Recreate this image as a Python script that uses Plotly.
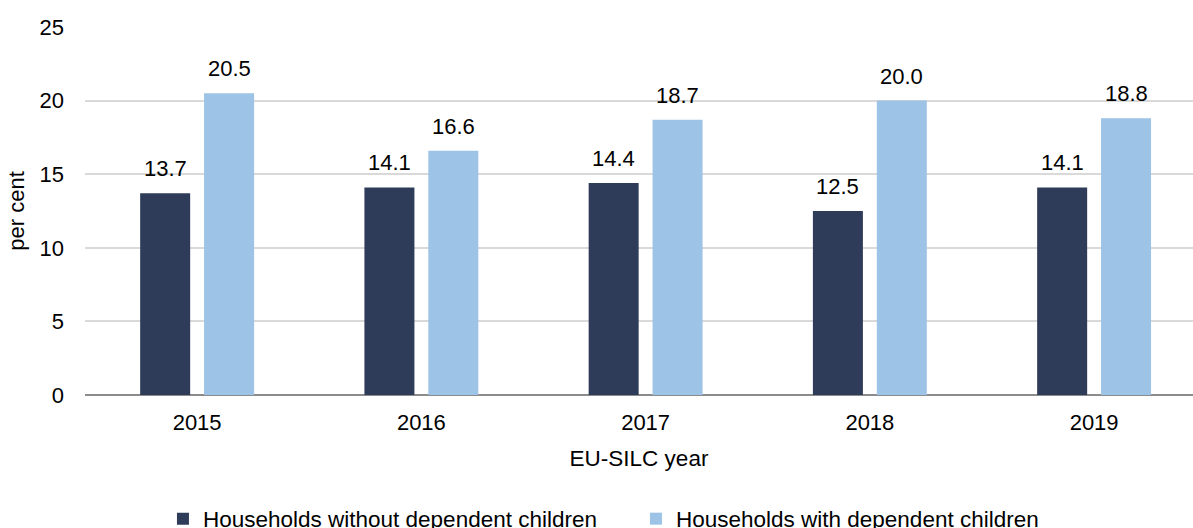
import plotly.graph_objects as go

years = ["2015", "2016", "2017", "2018", "2019"]
without_children = [13.7, 14.1, 14.4, 12.5, 14.1]
with_children = [20.5, 16.6, 18.7, 20.0, 18.8]
series_names = ["Households without dependent children", "Households with dependent children"]
y_ticks = [0, 5, 10, 15, 20, 25]

DARK = "#2F3C59"
LIGHT = "#9DC3E6"
FONT = "Liberation Sans, Arial, sans-serif"
FS = 22
FS2 = 22.5

BW = 0.223
fig = go.Figure()
fig.add_trace(go.Bar(x=years, y=without_children, name=series_names[0],
                     marker=dict(color=DARK, line=dict(width=0)),
                     width=BW, offset=-0.254))
fig.add_trace(go.Bar(x=years, y=with_children, name=series_names[1],
                     marker=dict(color=LIGHT, line=dict(width=0)),
                     width=BW, offset=0.031))

annotations = []
for i, yr in enumerate(years):
    for vals, dx in ((without_children, -0.1425), (with_children, 0.1425)):
        annotations.append(dict(x=i + dx, y=vals[i], xref="x", yref="y",
                                text=f"{vals[i]:.1f}", showarrow=False,
                                yanchor="bottom", yshift=10,
                                font=dict(family=FONT, size=FS, color="#000000")))

fig.update_layout(
    width=1193, height=528,
    margin=dict(l=85, r=0, t=27, b=133),
    paper_bgcolor="white", plot_bgcolor="white",
    font=dict(family=FONT, size=FS, color="#000000"),
    barmode="group",
    xaxis=dict(type="category", range=[-0.5, 4.441], showgrid=False,
               ticks="", showline=False, zeroline=False,
               tickfont=dict(size=FS), ticklabelstandoff=12,
               title=dict(text="EU-SILC year", font=dict(size=FS2), standoff=16)),
    yaxis=dict(range=[0, 25], tickvals=y_ticks, showgrid=True,
               gridcolor="#D9D9D9", gridwidth=1.5, zeroline=True,
               zerolinecolor="#8C8C8C", zerolinewidth=1.5, ticks="",
               showline=False, tickfont=dict(size=FS), ticklabelstandoff=20,
               title=dict(text="per cent", font=dict(size=FS), standoff=8)),
    legend=dict(orientation="h", xref="container", yref="container",
                x=0.1366, xanchor="left", y=0.017, yanchor="middle",
                font=dict(size=FS2), entrywidth=428, entrywidthmode="pixels",
                traceorder="normal"),
    annotations=annotations,
    showlegend=True,
)

fig.write_html("out.html")
